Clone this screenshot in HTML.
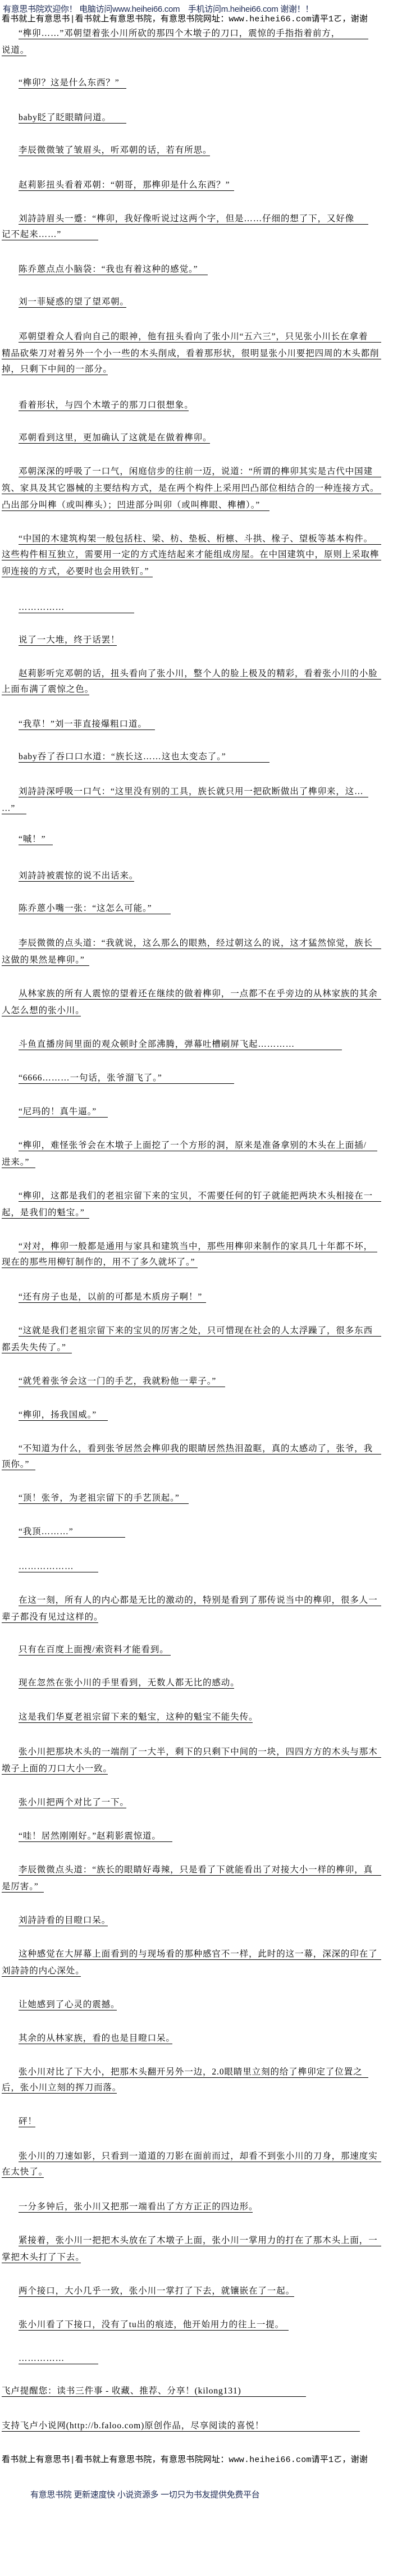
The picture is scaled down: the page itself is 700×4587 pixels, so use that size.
<!DOCTYPE html>
<html><head><meta charset="utf-8">
<style>
html,body{margin:0;padding:0;background:#fff;}
body{width:700px;height:4587px;position:relative;overflow:hidden;font-family:"Liberation Sans","Noto Sans CJK SC","WenQuanYi Zen Hei",sans-serif;color:#000;}
.l{position:absolute;height:19px;line-height:19px;font-size:15.5px;letter-spacing:0.9px;white-space:nowrap;overflow:hidden;border-bottom:1px solid #000;font-family:"Liberation Serif","Noto Serif CJK SC","WenQuanYi Zen Hei",serif;}
.h{position:absolute;white-space:nowrap;font-size:15px;}
</style></head><body>
<div class="h" style="left:5px;top:5px;color:#1e2b55;font-size:15px;letter-spacing:-0.3px;">有意思书院欢迎你！ 电脑访问www.heihei66.com　手机访问m.heihei66.com 谢谢！！</div>
<div class="h" style="left:3px;top:22px;font-family:'Liberation Mono','Noto Sans CJK SC',monospace;font-size:15px;letter-spacing:0.2px;">看书就上有意思书|看书就上有意思书院，有意思书院网址：www.heihei66.com请平1ㄛ，谢谢</div>

<div class="l" style="left:33px;top:50px;width:623px;">“榫卯……”邓朝望着张小川所砍的那四个木墩子的刀口，震惊的手指指着前方，</div>
<div class="l" style="left:3px;top:80px;width:44px;">说道。</div>
<div class="l" style="left:33px;top:138px;width:192px;">“榫卯？这是什么东西？”</div>
<div class="l" style="left:33px;top:200px;width:192px;">baby眨了眨眼睛问道。</div>
<div class="l" style="left:33px;top:258px;width:341px;">李辰微微皱了皱眉头，听邓朝的话，若有所思。</div>
<div class="l" style="left:33px;top:320px;width:384px;">赵莉影扭头看着邓朝：“朝哥，那榫卯是什么东西？”</div>
<div class="l" style="left:33px;top:380px;width:623px;">刘詩詩眉头一蹙：“榫卯，我好像听说过这两个字，但是……仔细的想了下，又好像</div>
<div class="l" style="left:3px;top:408px;width:172px;">记不起来……”</div>
<div class="l" style="left:33px;top:470px;width:337px;">陈乔蒽点点小脑袋：“我也有着这种的感觉。”</div>
<div class="l" style="left:33px;top:528px;width:192px;">刘一菲疑惑的望了望邓朝。</div>
<div class="l" style="left:33px;top:590px;width:646px;">邓朝望着众人看向自己的眼神，他有扭头看向了张小川“五六三”，只见张小川长在拿着</div>
<div class="l" style="left:3px;top:620px;width:676px;">精品砍柴刀对着另外一个小一些的木头削成，看着那形状，很明显张小川要把四周的木头都削</div>
<div class="l" style="left:3px;top:648px;width:189px;">掉，只剩下中间的一部分。</div>
<div class="l" style="left:33px;top:712px;width:303px;">看着形状，与四个木墩子的那刀口很想象。</div>
<div class="l" style="left:33px;top:770px;width:341px;">邓朝看到这里，更加确认了这就是在做着榫卯。</div>
<div class="l" style="left:33px;top:830px;width:646px;">邓朝深深的呼吸了一口气，闲庭信步的往前一迈，说道：“所谓的榫卯其实是古代中国建</div>
<div class="l" style="left:3px;top:860px;width:676px;">筑、家具及其它器械的主要结构方式，是在两个构件上采用凹凸部位相结合的一种连接方式。</div>
<div class="l" style="left:3px;top:890px;width:477px;">凸出部分叫榫（或叫榫头）；凹进部分叫卯（或叫榫眼、榫槽）。”</div>
<div class="l" style="left:33px;top:950px;width:646px;">“中国的木建筑构架一般包括柱、梁、枋、垫板、桁檩、斗拱、椽子、望板等基本构件。</div>
<div class="l" style="left:3px;top:978px;width:676px;">这些构件相互独立，需要用一定的方式连结起来才能组成房屋。在中国建筑中，原则上采取榫</div>
<div class="l" style="left:3px;top:1008px;width:269px;">卯连接的方式，必要时也会用铁钉。”</div>
<div class="l" style="left:33px;top:1072px;width:206px;">……………</div>
<div class="l" style="left:33px;top:1130px;width:175px;">说了一大堆，终于话罢！</div>
<div class="l" style="left:33px;top:1190px;width:646px;">赵莉影听完邓朝的话，扭头看向了张小川，整个人的脸上极及的精彩，看着张小川的小脸</div>
<div class="l" style="left:3px;top:1218px;width:156px;">上面布满了震惊之色。</div>
<div class="l" style="left:33px;top:1280px;width:243px;">“我草！”刘一菲直接爆粗口道。</div>
<div class="l" style="left:33px;top:1338px;width:447px;">baby吞了吞口口水道：“族长这……这也太变态了。”</div>
<div class="l" style="left:33px;top:1400px;width:623px;">刘詩詩深呼吸一口气：“这里没有别的工具，族长就只用一把砍断做出了榫卯来，这…</div>
<div class="l" style="left:3px;top:1430px;width:44px;">…”</div>
<div class="l" style="left:33px;top:1485px;width:61px;">“嘁！”</div>
<div class="l" style="left:33px;top:1550px;width:206px;">刘詩詩被震惊的说不出话来。</div>
<div class="l" style="left:33px;top:1608px;width:271px;">陈乔蒽小嘴一张：“这怎么可能。”</div>
<div class="l" style="left:33px;top:1670px;width:646px;">李辰微微的点头道：“我就说，这么那么的眼熟，经过朝这么的说，这才猛然惊觉，族长</div>
<div class="l" style="left:3px;top:1700px;width:156px;">这做的果然是榫卯。”</div>
<div class="l" style="left:33px;top:1760px;width:646px;">从林家族的所有人震惊的望着还在继续的做着榫卯，一点都不在乎旁边的从林家族的其余</div>
<div class="l" style="left:3px;top:1790px;width:141px;">人怎么想的张小川。</div>
<div class="l" style="left:33px;top:1850px;width:576px;">斗鱼直播房间里面的观众顿时全部沸腾，弹幕吐槽刷屏飞起…………</div>
<div class="l" style="left:33px;top:1910px;width:384px;">“6666………一句话，张爷溜飞了。”</div>
<div class="l" style="left:33px;top:1970px;width:159px;">“尼玛的！真牛逼。”</div>
<div class="l" style="left:33px;top:2030px;width:639px;">“榫卯，难怪张爷会在木墩子上面挖了一个方形的洞，原来是准备拿别的木头在上面插/</div>
<div class="l" style="left:3px;top:2060px;width:60px;">进来。”</div>
<div class="l" style="left:33px;top:2120px;width:646px;">“榫卯，这都是我们的老祖宗留下来的宝贝，不需要任何的钉子就能把两块木头相接在一</div>
<div class="l" style="left:3px;top:2150px;width:156px;">起，是我们的魁宝。”</div>
<div class="l" style="left:33px;top:2210px;width:639px;">“对对，榫卯一般都是通用与家具和建筑当中，那些用榫卯来制作的家具几十年都不坏，</div>
<div class="l" style="left:3px;top:2238px;width:349px;">现在的那些用柳钉制作的，用不了多久就坏了。”</div>
<div class="l" style="left:33px;top:2300px;width:334px;">“还有房子也是，以前的可都是木质房子啊！”</div>
<div class="l" style="left:33px;top:2360px;width:646px;">“这就是我们老祖宗留下来的宝贝的厉害之处，只可惜现在社会的人太浮躁了，很多东西</div>
<div class="l" style="left:3px;top:2390px;width:125px;">都丢失失传了。”</div>
<div class="l" style="left:33px;top:2450px;width:368px;">“就凭着张爷会这一门的手艺，我就粉他一辈子。”</div>
<div class="l" style="left:33px;top:2510px;width:159px;">“榫卯，扬我国威。”</div>
<div class="l" style="left:33px;top:2570px;width:646px;">“不知道为什么，看到张爷居然会榫卯我的眼睛居然热泪盈眶，真的太感动了，张爷，我</div>
<div class="l" style="left:3px;top:2598px;width:60px;">顶你。”</div>
<div class="l" style="left:33px;top:2658px;width:303px;">“顶！张爷，为老祖宗留下的手艺顶起。”</div>
<div class="l" style="left:33px;top:2718px;width:190px;">“我顶………”</div>
<div class="l" style="left:33px;top:2780px;width:142px;">………………</div>
<div class="l" style="left:33px;top:2840px;width:646px;">在这一刻，所有人的内心都是无比的激动的，特别是看到了那传说当中的榫卯，很多人一</div>
<div class="l" style="left:3px;top:2870px;width:172px;">辈子都没有见过这样的。</div>
<div class="l" style="left:33px;top:2928px;width:271px;">只有在百度上面搜/索资料才能看到。</div>
<div class="l" style="left:33px;top:2987px;width:384px;">现在忽然在张小川的手里看到，无数人都无比的感动。</div>
<div class="l" style="left:33px;top:3048px;width:417px;">这是我们华夏老祖宗留下来的魁宝，这种的魁宝不能失传。</div>
<div class="l" style="left:33px;top:3110px;width:646px;">张小川把那块木头的一端削了一大半，剩下的只剩下中间的一块，四四方方的木头与那木</div>
<div class="l" style="left:3px;top:3140px;width:189px;">墩子上面的刀口大小一致。</div>
<div class="l" style="left:33px;top:3200px;width:192px;">张小川把两个对比了一下。</div>
<div class="l" style="left:33px;top:3260px;width:274px;">“哇！居然刚刚好。”赵莉影震惊道。</div>
<div class="l" style="left:33px;top:3320px;width:646px;">李辰微微点头道：“族长的眼睛好毒辣，只是看了下就能看出了对接大小一样的榫卯，真</div>
<div class="l" style="left:3px;top:3350px;width:75px;">是厉害。”</div>
<div class="l" style="left:33px;top:3410px;width:159px;">刘詩詩看的目瞪口呆。</div>
<div class="l" style="left:33px;top:3470px;width:646px;">这种感觉在大屏幕上面看到的与现场看的那种感官不一样，此时的这一幕，深深的印在了</div>
<div class="l" style="left:3px;top:3500px;width:141px;">刘詩詩的内心深处。</div>
<div class="l" style="left:33px;top:3560px;width:175px;">让她感到了心灵的震撼。</div>
<div class="l" style="left:33px;top:3620px;width:274px;">其余的从林家族，看的也是目瞪口呆。</div>
<div class="l" style="left:33px;top:3680px;width:623px;">张小川对比了下大小，把那木头翻开另外一边，2.0眼睛里立刻的给了榫卯定了位置之</div>
<div class="l" style="left:3px;top:3708px;width:205px;">后，张小川立刻的挥刀而落。</div>
<div class="l" style="left:33px;top:3768px;width:30px;">砰！</div>
<div class="l" style="left:33px;top:3830px;width:646px;">张小川的刀速如影，只看到一道道的刀影在面前而过，却看不到张小川的刀身，那速度实</div>
<div class="l" style="left:3px;top:3858px;width:75px;">在太快了。</div>
<div class="l" style="left:33px;top:3920px;width:417px;">一分多钟后，张小川又把那一端看出了方方正正的四边形。</div>
<div class="l" style="left:33px;top:3980px;width:646px;">紧接着，张小川一把把木头放在了木墩子上面，张小川一掌用力的打在了那木头上面，一</div>
<div class="l" style="left:3px;top:4010px;width:141px;">掌把木头打了下去。</div>
<div class="l" style="left:33px;top:4070px;width:491px;">两个接口，大小几乎一致，张小川一掌打了下去，就镶嵌在了一起。</div>
<div class="l" style="left:33px;top:4130px;width:481px;">张小川看了下接口，没有了tu出的痕迹，他开始用力的往上一提。</div>
<div class="l" style="left:33px;top:4190px;width:142px;">……………</div>
<div class="l" style="left:3px;top:4248px;width:542px;">飞卢提醒您：读书三件事 - 收藏、推荐、分享！(kilong131)</div>
<div class="l" style="left:3px;top:4310px;width:638px;">支持飞卢小说网(http://b.faloo.com)原创作品，尽享阅读的喜悦！</div>

<div class="h" style="left:3px;top:4368px;font-family:'Liberation Mono','Noto Sans CJK SC',monospace;font-size:15px;letter-spacing:0.2px;">看书就上有意思书|看书就上有意思书院，有意思书院网址：www.heihei66.com请平1ㄛ，谢谢</div>
<div class="h" style="left:54px;top:4431px;color:#1e2b55;font-size:15px;letter-spacing:-0.3px;">有意思书院 更新速度快 小说资源多 一切只为书友提供免费平台</div>
</body></html>
